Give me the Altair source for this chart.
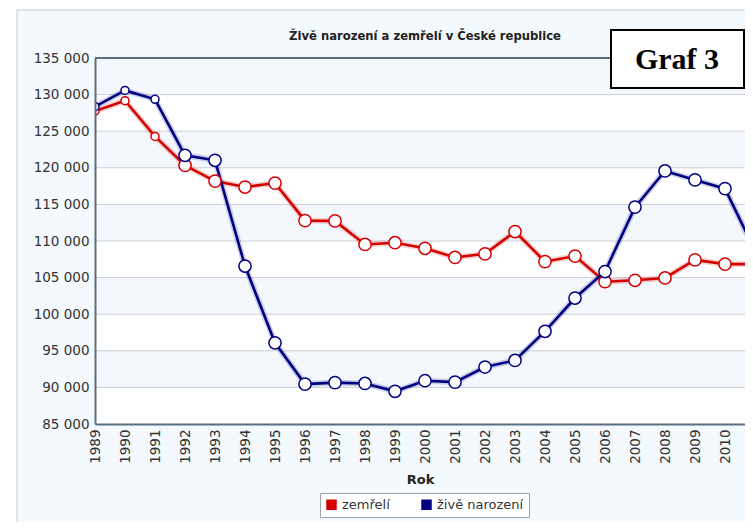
import altair as alt
import pandas as pd

years = list(range(1989, 2012))
zive_narozeni = [128356, 130564, 129354, 121705, 121025, 106579, 96097, 90446, 90657,
                 90535, 89471, 90910, 90715, 92786, 93685, 97664, 102211, 105831,
                 114632, 119570, 118348, 117153, 108673]
zemreli = [127747, 129166, 124290, 120337, 118185, 117373, 117913, 112782, 112744,
           109527, 109768, 109001, 107755, 108243, 111288, 107177, 107938, 104441,
           104636, 104948, 107421, 106844, 106848]
series_names = ["zemřelí", "živě narození"]
series_colors = ["#d40000", "#000080"]
y_ticks = list(range(85000, 135001, 5000))
x_ticks = list(range(1989, 2011))
title_text = "Živě narození a zemřelí v České republice"
x_title = "Rok"
badge_text = "Graf 3"

W, H = 650, 366
FONT = "DejaVu Sans"
AXIS_COL = "#5b6e84"

rows = []
for y, v in zip(years, zemreli):
    rows.append({"Year": y, "value": v, "series": series_names[0]})
for y, v in zip(years, zive_narozeni):
    rows.append({"Year": y, "value": v, "series": series_names[1]})
df = pd.DataFrame(rows)

band_lo = [t for t in y_ticks[1::2]]
bands = pd.DataFrame({"lo": band_lo, "hi": [b + 5000 for b in band_lo]})
grid = pd.DataFrame({"tick": y_ticks[1:-1]})
dummy = pd.DataFrame({"k": [0]})

x_scale = alt.Scale(domain=[1989, 1989 + W / 30], nice=False, zero=False)
y_scale = alt.Scale(domain=[85000, 135000], nice=False, zero=False)
color_scale = alt.Scale(domain=series_names, range=series_colors)

y_axis = alt.Axis(values=y_ticks,
                  labelExpr="format(floor(datum.value/1000),'d') + ' 000'",
                  labelFont=FONT, labelFontSize=13.5, labelColor="#333333",
                  ticks=False, domainColor=AXIS_COL, domainWidth=2, grid=False,
                  title=None, labelPadding=6, zindex=1)
x_axis = alt.Axis(values=x_ticks, format="d", labelAngle=270, labelFont=FONT,
                  labelFontSize=13.5, labelColor="#333333", labelPadding=5,
                  labelFlush=False, labelOverlap=False, labelBound=False,
                  title=x_title, titleFont=FONT, titleFontSize=13,
                  titleFontWeight="bold", titleColor="#222222", titlePadding=10,
                  ticks=False, domainColor=AXIS_COL, domainWidth=2, grid=False,
                  zindex=1)

frame = alt.Chart(dummy).mark_rect(fill="#f4f9fd", stroke="#c3cbd3", strokeWidth=1).encode(
    x=alt.value(-78), x2=alt.value(720), y=alt.value(-48), y2=alt.value(520))
plot_bg = alt.Chart(dummy).mark_rect(fill="white").encode(
    x=alt.value(0), x2=alt.value(W), y=alt.value(0), y2=alt.value(H))
band_layer = alt.Chart(bands).mark_rect(fill="#f4f8fc").encode(
    y=alt.Y("lo:Q", scale=y_scale, axis=y_axis), y2="hi:Q",
    x=alt.value(0), x2=alt.value(W))
grid_layer = alt.Chart(grid).mark_rule(color="#c8d0d8", strokeWidth=1).encode(
    y=alt.Y("tick:Q", scale=y_scale, axis=y_axis),
    x=alt.value(0), x2=alt.value(W))
top_rule = alt.Chart(dummy).mark_rule(color=AXIS_COL, strokeWidth=2).encode(
    x=alt.value(0), x2=alt.value(W), y=alt.value(0))

X = alt.X("Year:Q", scale=x_scale, axis=x_axis)
Y = alt.Y("value:Q", scale=y_scale, axis=y_axis)

glow = alt.Chart(df).mark_line(strokeWidth=6, opacity=0.18, clip=True).encode(
    x=X, y=Y, color=alt.Color("series:N", scale=color_scale, legend=None),
    detail="series:N")
lines = alt.Chart(df).mark_line(strokeWidth=2.6, clip=True).encode(
    x=X, y=Y, color=alt.Color("series:N", scale=color_scale, legend=None),
    detail="series:N")
points = alt.Chart(df).mark_point(shape="circle", fill="white", filled=False,
                                  strokeWidth=1.5, opacity=1, clip=True).encode(
    x=X, y=Y, color=alt.Color("series:N", scale=color_scale, legend=None),
    size=alt.condition("datum.Year <= 1991", alt.value(64), alt.value(150)))

title = alt.Chart(dummy).mark_text(text=title_text, font=FONT, fontSize=11.6,
                                   fontWeight="bold", color="#222222",
                                   align="center", baseline="middle").encode(
    x=alt.value(330), y=alt.value(-21))
badge_box = alt.Chart(dummy).mark_rect(fill="white", stroke="black", strokeWidth=2).encode(
    x=alt.value(516), x2=alt.value(649), y=alt.value(-28), y2=alt.value(30))
badge_txt = alt.Chart(dummy).mark_text(text=badge_text, font="Liberation Serif",
                                       fontSize=30, fontWeight="bold", color="black",
                                       align="center", baseline="middle").encode(
    x=alt.value(582), y=alt.value(2))

legend_layer = alt.Chart(df).mark_square(size=110, opacity=1).encode(
    color=alt.Color("series:N", scale=color_scale,
                    legend=alt.Legend(orient="none", legendX=225, legendY=435,
                                      direction="horizontal", title=None,
                                      fillColor="white", strokeColor="#9aa4ae",
                                      padding=5, symbolType="square",
                                      symbolSize=110, symbolStrokeWidth=0,
                                      labelFont=FONT, labelFontSize=13,
                                      labelColor="#333333", columnPadding=30,
                                      labelOffset=4))
).transform_filter("false")

chart = alt.layer(frame, plot_bg, band_layer, grid_layer, top_rule, glow, lines,
                  points, title, badge_box, badge_txt, legend_layer).resolve_scale(
    color="independent"
).properties(
    width=W, height=H,
    padding={"left": 87, "top": 50, "right": 0, "bottom": 98},
    autosize=alt.AutoSizeParams(type="none"),
).configure(background="white").configure_view(stroke=None, fill=None)

chart.save("out.html", embed_options={"renderer": "svg", "actions": False})
